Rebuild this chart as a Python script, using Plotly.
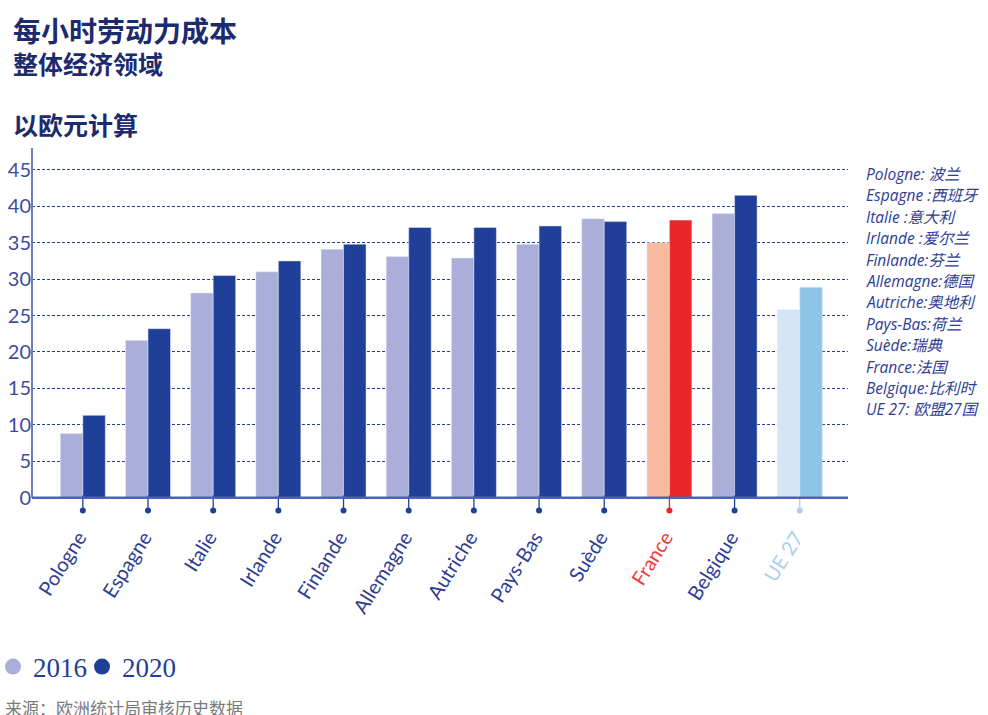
import plotly.graph_objects as go

# ---- data ----
countries = ["Pologne", "Espagne", "Italie", "Irlande", "Finlande", "Allemagne",
             "Autriche", "Pays-Bas", "Suède", "France", "Belgique", "UE 27"]
cost_2016 = [8.8, 21.6, 28.1, 31.0, 34.1, 33.1, 32.9, 34.8, 38.3, 35.0, 39.0, 25.8]
cost_2020 = [11.3, 23.2, 30.5, 32.5, 34.8, 37.1, 37.1, 37.3, 37.9, 38.1, 41.5, 28.9]
glossary = ["Pologne: 波兰", "Espagne :西班牙", "Italie :意大利", "Irlande :爱尔兰",
            "Finlande:芬兰", "Allemagne:德国", "Autriche:奥地利", "Pays-Bas:荷兰",
            "Suède:瑞典", "France:法国", "Belgique:比利时", "UE 27: 欧盟27国"]
years = ["2016", "2020"]

NAVY = "#1f3f99"
LAVENDER = "#abaed8"
TEXT = "#2e3c94"

# per-country colours (France in red, EU average in light blue)
c16 = {"France": "#f9b9a1", "UE 27": "#d4e6f6"}
c20 = {"France": "#e9262a", "UE 27": "#8ec4e8"}
lbl = {"France": "#ef3b37", "UE 27": "#a9d1ee"}
stem = {"France": "#e9262a", "UE 27": "#a9d1ee"}

col_16 = [c16.get(c, LAVENDER) for c in countries]
col_20 = [c20.get(c, NAVY) for c in countries]
col_lbl = [lbl.get(c, TEXT) for c in countries]
col_stem = [stem.get(c, NAVY) for c in countries]

fig = go.Figure()
fig.add_trace(go.Bar(x=countries, y=cost_2016, marker_color=col_16, showlegend=False))
fig.add_trace(go.Bar(x=countries, y=cost_2020, marker_color=col_20, showlegend=False))

# small stems with dots under each category (y range goes a bit below 0)
fig.add_trace(go.Scatter(
    x=countries, y=[-0.85] * len(countries), mode="markers",
    marker=dict(symbol="line-ns", size=12, line=dict(color=col_stem, width=1.3)),
    hoverinfo="skip", showlegend=False,
))
fig.add_trace(go.Scatter(
    x=countries, y=[-1.75] * len(countries), mode="markers",
    marker=dict(size=6, color=col_stem),
    hoverinfo="skip", showlegend=False,
))

# legend-only entries (round dots); last blank entry just keeps "2020" from being clipped
for yr, col in zip(years + [" "], [LAVENDER, NAVY, "rgba(0,0,0,0)"]):
    fig.add_trace(go.Scatter(x=[None], y=[None], mode="markers", name=yr,
                             marker=dict(size=17, color=col)))

ticktext = [f"<span style='color:{col}'>{c}</span>" for c, col in zip(countries, col_lbl)]

T, B = 148, 521  # plot area top / bottom in page pixels
L, R = 32, 848


def px_x(x):
    return (x - L) / (R - L)


def px_y(y):
    return (B - y) / (B - T)


fig.update_layout(
    width=988, height=715,
    margin=dict(l=L, r=988 - R, t=T, b=715 - B, autoexpand=False),
    paper_bgcolor="white", plot_bgcolor="white",
    barmode="group", bargap=0.31, bargroupgap=0,
    showlegend=True,
    legend=dict(orientation="h", x=px_x(-7), y=px_y(667), xanchor="left", yanchor="middle",
                font=dict(size=27, color=NAVY, family="Liberation Serif, serif"),
                itemwidth=30, entrywidth=44, entrywidthmode="pixels",
                itemclick=False, bgcolor="rgba(0,0,0,0)"),
    font=dict(family="Lato, Open Sans, sans-serif", color=TEXT),
)

fig.update_xaxes(
    type="category", range=[-0.78, 11.74],
    tickvals=countries, ticktext=ticktext, tickangle=-58,
    tickfont=dict(size=20, family="Lato, Open Sans, sans-serif"),
    ticks="", ticklabelshift=-4,
    showline=False, showgrid=False, zeroline=False, automargin=False,
)
fig.update_yaxes(
    range=[-3.2, 48], tickvals=[0, 5, 10, 15, 20, 25, 30, 35, 40, 45],
    tickfont=dict(size=20, color="#3c4c9e"),
    showline=False,
    showgrid=True, gridcolor="#2d3d8f", gridwidth=1, griddash="3px,2px",
    zeroline=False, ticks="", automargin=False,
)

# axis lines
fig.add_shape(type="line", xref="paper", yref="y", x0=0, x1=0, y0=0, y1=48,
              line=dict(color="#6c7ec6", width=2))
fig.add_shape(type="line", xref="paper", yref="y", x0=0, x1=1, y0=0, y1=0,
              line=dict(color="#4d62b8", width=2.5), layer="above")

# ---- titles ----
title_font = "Noto Sans CJK SC, sans-serif"
fig.add_annotation(text="<b>每小时劳动力成本</b>", x=px_x(11), y=px_y(30), xref="paper", yref="paper",
                   xanchor="left", yanchor="middle", showarrow=False,
                   font=dict(size=28, color="#1c2a6e", family=title_font))
fig.add_annotation(text="<b>整体经济领域</b>", x=px_x(11), y=px_y(63), xref="paper", yref="paper",
                   xanchor="left", yanchor="middle", showarrow=False,
                   font=dict(size=25, color="#1c2a6e", family=title_font))
fig.add_annotation(text="<b>以欧元计算</b>", x=px_x(11), y=px_y(124), xref="paper", yref="paper",
                   xanchor="left", yanchor="middle", showarrow=False,
                   font=dict(size=25, color="#1c2a6e", family=title_font))

# ---- glossary on the right ----
for i, line in enumerate(glossary):
    fig.add_annotation(text=f"<i>{line}</i>", x=px_x(864), y=px_y(174 + i * 21.4),
                       xref="paper", yref="paper", xanchor="left", yanchor="middle",
                       showarrow=False,
                       font=dict(size=15.5, color=TEXT, family="Open Sans, Noto Sans CJK SC, sans-serif"))

fig.add_annotation(text="来源：欧洲统计局审核历史数据", x=px_x(3), y=px_y(707), xref="paper", yref="paper",
                   xanchor="left", yanchor="middle", showarrow=False,
                   font=dict(size=17, color="#7a7a7a", family="Noto Sans CJK SC, sans-serif"))

# drop the page's default body margin so the figure sits at the window's corner
fig.write_html("out.html", config={"displayModeBar": False},
               post_script="document.body.style.margin='0';")
